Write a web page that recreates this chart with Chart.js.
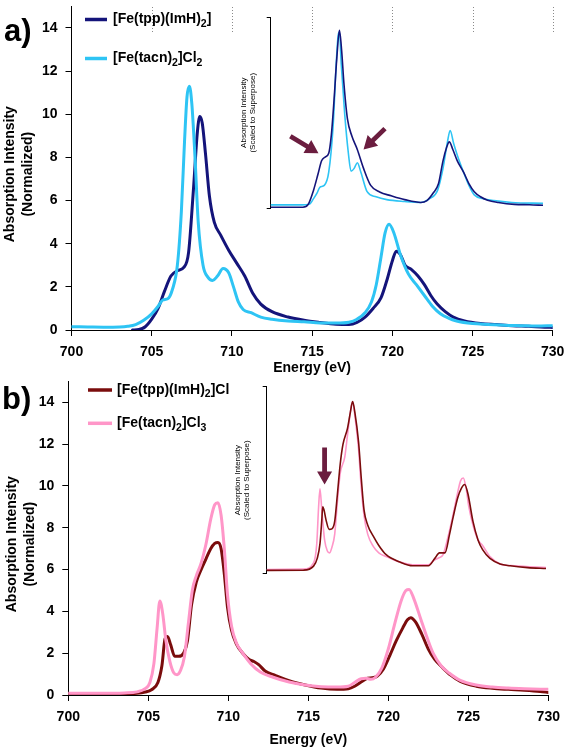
<!DOCTYPE html>
<html>
<head>
<meta charset="utf-8">
<script src="https://cdn.jsdelivr.net/npm/chart.js@4.4.1/dist/chart.umd.min.js"></script>
<style>
  body { margin: 0; background: #fff; }
  #wrap { position: relative; width: 567px; height: 754px; }
  #wrap canvas { position: absolute; }
</style>
</head>
<body>
<div id="wrap">
  <canvas id="mainA" width="567" height="377" style="left:0;top:0"></canvas>
  <canvas id="mainB" width="567" height="377" style="left:0;top:377px"></canvas>
  <canvas id="insetA" width="340" height="210" style="left:220px;top:10px"></canvas>
  <canvas id="insetB" width="345" height="205" style="left:215px;top:378px"></canvas>
</div>
<script>
const fontFam = '"Liberation Sans", Arial, sans-serif';

// panel a, main plot
const legendA = ["[Fe(tpp)(ImH)2]", "[Fe(tacn)2]Cl2"];
const energyA_tpp = [703.8, 704.2, 704.6, 705, 705.4, 705.8, 706.2, 706.6, 707.0, 707.3, 707.6, 707.85, 708.0, 708.15, 708.35, 708.6, 708.9, 709.3, 709.8, 710.3, 710.8, 711.3, 711.8, 712.5, 713.5, 714.5, 715.5, 716.5, 717.3, 717.8, 718.3, 718.8, 719.3, 719.7, 720.0, 720.25, 720.5, 720.8, 721.2, 721.6, 722.0, 722.4, 722.8, 723.3, 723.8, 724.5, 725.5, 726.5, 727.5, 728.5, 729.5, 730];
const intensityA_tpp = [0, 0.02, 0.15, 0.5, 1.0, 1.8, 2.5, 2.75, 2.9, 3.6, 6.5, 9.2, 9.9, 9.6, 8.2, 6.2, 5.0, 4.4, 3.7, 3.1, 2.5, 1.7, 1.2, 0.85, 0.6, 0.45, 0.35, 0.27, 0.25, 0.35, 0.6, 1.0, 1.5, 2.4, 3.2, 3.65, 3.5, 3.0, 2.8, 2.5, 2.1, 1.6, 1.2, 0.85, 0.6, 0.42, 0.3, 0.25, 0.2, 0.17, 0.13, 0.12];
const energyA_tacn = [700, 701, 702, 703, 703.5, 704, 704.5, 705, 705.4, 705.7, 706.0, 706.3, 706.6, 706.85, 707.05, 707.2, 707.35, 707.5, 707.7, 707.9, 708.2, 708.5, 708.8, 709.1, 709.45, 709.8, 710.1, 710.4, 710.7, 711.2, 711.8, 712.5, 713.5, 714.5, 715.5, 716.5, 717.3, 717.8, 718.3, 718.7, 719.0, 719.3, 719.55, 719.8, 720.1, 720.5, 721.0, 721.5, 722.0, 722.5, 723.0, 723.5, 724.0, 725.0, 726.0, 727.0, 728.0, 729.0, 730];
const intensityA_tacn = [0.15, 0.14, 0.13, 0.14, 0.17, 0.25, 0.45, 0.75, 1.1, 1.4, 1.45, 1.9, 3.0, 5.5, 8.8, 10.8, 11.3, 10.5, 8.0, 5.0, 3.0, 2.45, 2.3, 2.5, 2.85, 2.65, 2.0, 1.3, 0.95, 0.8, 0.6, 0.5, 0.42, 0.38, 0.33, 0.32, 0.36, 0.5, 0.8, 1.3, 2.1, 3.4, 4.5, 4.9, 4.5, 3.5, 2.6, 2.1, 1.6, 1.1, 0.75, 0.55, 0.42, 0.3, 0.26, 0.22, 0.2, 0.18, 0.2];

// panel a, inset (scaled to superpose)
const energyInsetA_tpp = [700, 703.6, 704.2, 704.8, 705.3, 705.7, 706.1, 706.5, 706.8, 707.1, 707.4, 707.7, 707.95, 708.2, 708.6, 709.1, 709.7, 710.4, 711.2, 712.2, 713.5, 715, 716.8, 717.5, 718.2, 718.8, 719.3, 719.7, 720.0, 720.4, 720.9, 721.6, 722.2, 722.8, 723.5, 724.3, 725.5, 727.3, 729, 730.5];
const intensityInsetA_tpp = [-0.005, -0.005, 0.01, 0.085, 0.17, 0.24, 0.26, 0.28, 0.38, 0.565, 0.78, 0.93, 0.82, 0.65, 0.46, 0.37, 0.3, 0.2, 0.11, 0.075, 0.055, 0.035, 0.02, 0.03, 0.07, 0.12, 0.24, 0.31, 0.34, 0.3, 0.24, 0.18, 0.12, 0.077, 0.05, 0.032, 0.02, 0.01, 0.008, 0.005];
const energyInsetA_tacn = [700, 703.5, 704.3, 704.8, 705.2, 705.5, 706.0, 706.5, 707.0, 707.3, 707.55, 707.7, 707.9, 708.3, 708.7, 709.0, 709.35, 709.7, 710.1, 710.8, 711.8, 713.0, 715, 716.8, 717.8, 718.7, 719.3, 719.8, 720.1, 720.5, 720.9, 721.6, 722.2, 722.8, 723.8, 725, 727, 730.5];
const intensityInsetA_tacn = [0.007, 0.007, 0.01, 0.04, 0.07, 0.1, 0.11, 0.18, 0.43, 0.72, 0.9, 0.92, 0.75, 0.48, 0.28, 0.185, 0.2, 0.23, 0.18, 0.077, 0.05, 0.035, 0.025, 0.02, 0.04, 0.085, 0.2, 0.34, 0.4, 0.33, 0.27, 0.18, 0.11, 0.06, 0.04, 0.03, 0.02, 0.015];
const arrowTailsA = [[702.2, 0.37], [712.8, 0.41]];
const arrowTipsA = [[705.35, 0.28], [710.4, 0.30]];

// panel b, main plot
const legendB = ["[Fe(tpp)(ImH)2]Cl", "[Fe(tacn)2]Cl3"];
const energyB_tpp = [700, 702, 703.5, 704.3, 704.8, 705.2, 705.6, 705.85, 706.05, 706.2, 706.4, 706.65, 706.9, 707.2, 707.45, 707.7, 708.0, 708.3, 708.6, 708.9, 709.15, 709.35, 709.55, 709.75, 709.95, 710.2, 710.5, 710.9, 711.3, 711.6, 711.9, 712.3, 712.9, 713.8, 714.8, 715.8, 716.8, 717.5, 717.9, 718.3, 718.7, 719.0, 719.3, 719.7, 720.1, 720.5, 720.9, 721.2, 721.4, 721.7, 722.1, 722.5, 722.9, 723.4, 723.9, 724.5, 725.5, 726.5, 727.5, 728.5, 729.5, 730];
const intensityB_tpp = [0.05, 0.05, 0.06, 0.08, 0.14, 0.25, 0.6, 1.4, 2.7, 2.8, 2.4, 1.85, 1.85, 2.0, 2.6, 4.3, 5.4, 6.0, 6.5, 7.0, 7.25, 7.3, 7.0, 5.8, 4.2, 3.1, 2.45, 2.0, 1.7, 1.6, 1.45, 1.15, 0.95, 0.68, 0.48, 0.33, 0.27, 0.3, 0.42, 0.62, 0.8, 0.82, 0.9, 1.25, 1.9, 2.6, 3.2, 3.6, 3.7, 3.5, 2.9, 2.2, 1.7, 1.3, 0.95, 0.65, 0.42, 0.32, 0.27, 0.23, 0.17, 0.12];
const energyB_tacn = [700, 702, 703.5, 704.3, 704.8, 705.1, 705.35, 705.55, 705.72, 705.9, 706.1, 706.35, 706.6, 706.8, 707.0, 707.25, 707.5, 707.75, 708.0, 708.3, 708.6, 708.9, 709.15, 709.35, 709.55, 709.75, 709.95, 710.2, 710.5, 710.9, 711.4, 712.0, 712.8, 713.8, 714.8, 715.8, 716.8, 717.5, 717.9, 718.3, 718.6, 718.9, 719.2, 719.6, 720.0, 720.4, 720.8, 721.1, 721.3, 721.6, 722.0, 722.4, 722.8, 723.3, 723.8, 724.5, 725.5, 726.5, 727.5, 728.5, 730];
const intensityB_tacn = [0.08, 0.08, 0.1, 0.15, 0.3, 0.6, 1.5, 3.2, 4.5, 3.9, 2.6, 1.6, 1.05, 0.97, 1.15, 1.8, 3.4, 5.0, 5.7, 6.3, 7.2, 8.4, 9.1, 9.2, 8.6, 7.0, 4.8, 3.3, 2.5, 2.0, 1.5, 1.1, 0.85, 0.62, 0.48, 0.4, 0.38, 0.42, 0.6, 0.78, 0.8, 0.75, 0.85, 1.3, 2.2, 3.4, 4.5, 5.0, 5.05, 4.6, 3.7, 2.8, 2.0, 1.4, 1.05, 0.7, 0.48, 0.38, 0.33, 0.3, 0.27];

// panel b, inset
const energyInsetB_tpp = [700, 704.0, 705.1, 705.5, 705.8, 706.0, 706.1, 706.25, 706.45, 706.8, 707.1, 707.4, 707.7, 708.0, 708.3, 708.8, 709.1, 709.35, 709.6, 710.0, 710.3, 710.6, 711.0, 711.6, 712.2, 713.0, 714.5, 715.9, 717.6, 718.3, 718.8, 719.4, 719.9, 720.3, 720.8, 721.2, 721.55, 721.9, 722.45, 723.0, 723.5, 724.3, 725.4, 726.5, 728.4, 730.4];
const intensityInsetB_tpp = [0.005, 0.006, 0.028, 0.07, 0.15, 0.28, 0.35, 0.33, 0.28, 0.227, 0.23, 0.27, 0.42, 0.58, 0.687, 0.776, 0.86, 0.92, 0.86, 0.7, 0.5, 0.33, 0.25, 0.19, 0.14, 0.09, 0.05, 0.03, 0.03, 0.07, 0.1, 0.1, 0.2, 0.295, 0.4, 0.45, 0.47, 0.42, 0.27, 0.17, 0.117, 0.07, 0.04, 0.03, 0.02, 0.015];
const energyInsetB_tacn = [700, 704.0, 705.1, 705.45, 705.65, 705.8, 706.0, 706.3, 706.6, 706.85, 707.1, 707.4, 707.7, 708.0, 708.5, 708.8, 709.1, 709.35, 709.6, 710.0, 710.3, 710.6, 711.0, 711.6, 712.2, 713.0, 714.5, 715.9, 717.6, 718.2, 718.7, 719.2, 719.8, 720.3, 720.8, 721.1, 721.4, 721.7, 722.0, 722.45, 723.0, 723.5, 724.3, 725.4, 727, 730.4];
const intensityInsetB_tacn = [0.01, 0.012, 0.045, 0.15, 0.35, 0.447, 0.33, 0.17, 0.11, 0.1, 0.13, 0.2, 0.38, 0.53, 0.62, 0.74, 0.86, 0.92, 0.84, 0.66, 0.45, 0.3, 0.2, 0.135, 0.1, 0.08, 0.05, 0.035, 0.035, 0.06, 0.072, 0.09, 0.2, 0.31, 0.43, 0.49, 0.505, 0.45, 0.35, 0.25, 0.17, 0.14, 0.08, 0.04, 0.03, 0.02];
const arrowTailsB = [[706.3, 0.67]];
const arrowTipsB = [[706.3, 0.47]];

const pts = (xs, ys) => xs.map((x, i) => ({ x: x, y: ys[i] }));

function drawFormula(ctx, text, x, y, size) {
  // digits in the formulas are subscripts
  text.split(/(\d+)/).forEach((part, i) => {
    if (!part) return;
    const sub = i % 2 === 1;
    ctx.font = `bold ${sub ? size * 0.75 : size}px ${fontFam}`;
    ctx.fillText(part, x, sub ? y + size * 0.32 : y);
    x += ctx.measureText(part).width;
  });
}

function drawArrow(ctx, x1, y1, x2, y2, w, headLen, headW) {
  const len = Math.hypot(x2 - x1, y2 - y1);
  ctx.save();
  ctx.translate(x1, y1);
  ctx.rotate(Math.atan2(y2 - y1, x2 - x1));
  ctx.beginPath();
  ctx.moveTo(0, -w / 2);
  ctx.lineTo(len - headLen, -w / 2);
  ctx.lineTo(len - headLen, -headW / 2);
  ctx.lineTo(len, 0);
  ctx.lineTo(len - headLen, headW / 2);
  ctx.lineTo(len - headLen, w / 2);
  ctx.lineTo(0, w / 2);
  ctx.closePath();
  ctx.fill();
  ctx.restore();
}

const decor = {
  id: "decor",
  afterDraw(chart, args, o) {
    const ctx = chart.ctx;
    const area = chart.chartArea;
    const xs = chart.scales.x, ys = chart.scales.y;
    ctx.save();
    ctx.fillStyle = "#000";

    if (o.dots) {
      ctx.strokeStyle = "#8a8a8a";
      ctx.lineWidth = 1;
      ctx.setLineDash([1, 2]);
      o.dots.values.forEach(v => {
        const px = Math.round(xs.getPixelForValue(v)) + 0.5;
        ctx.beginPath();
        ctx.moveTo(px, o.dots.y0);
        ctx.lineTo(px, o.dots.y1);
        ctx.stroke();
      });
      ctx.setLineDash([]);
    }

    if (o.tag) {
      ctx.font = `bold ${o.tag.size}px ${fontFam}`;
      ctx.textBaseline = "alphabetic";
      ctx.textAlign = "left";
      ctx.fillText(o.tag.text, o.tag.x, o.tag.y);
    }

    if (o.yTitle) {
      const t = o.yTitle;
      ctx.font = `${t.weight} ${t.size}px ${fontFam}`;
      ctx.textAlign = "center";
      ctx.textBaseline = "middle";
      t.lines.forEach((line, i) => {
        ctx.save();
        ctx.translate(area.left - t.offsets[i], (area.top + area.bottom) / 2 + t.shift);
        ctx.rotate(-Math.PI / 2);
        ctx.fillText(line, 0, 0);
        ctx.restore();
      });
    }

    if (o.xTitle) {
      ctx.font = `bold ${o.xTitle.size}px ${fontFam}`;
      ctx.textAlign = "center";
      ctx.textBaseline = "middle";
      ctx.fillText(o.xTitle.text, (area.left + area.right) / 2, o.xTitle.y);
    }

    if (o.legend) {
      const L = o.legend;
      ctx.textAlign = "left";
      ctx.textBaseline = "middle";
      chart.data.datasets.forEach((ds, i) => {
        const y = L.y0 + i * L.dy;
        ctx.strokeStyle = ds.borderColor;
        ctx.lineWidth = 3.5;
        ctx.beginPath();
        ctx.moveTo(L.x0, y);
        ctx.lineTo(L.x1, y);
        ctx.stroke();
        ctx.fillStyle = "#000";
        drawFormula(ctx, ds.label, L.tx, y, L.size);
      });
    }

    if (o.arrows) {
      ctx.fillStyle = o.arrows.color;
      o.arrows.tails.forEach((tail, i) => {
        const tip = o.arrows.tips[i];
        drawArrow(ctx,
          xs.getPixelForValue(tail[0]), ys.getPixelForValue(tail[1]),
          xs.getPixelForValue(tip[0]), ys.getPixelForValue(tip[1]),
          4.8, 13, 15);
      });
    }
    ctx.restore();
  }
};

const tickFont = { family: fontFam, size: 14, weight: "bold" };

function mainScales(yWidth, xHeight) {
  return {
    x: {
      type: "linear", min: 700, max: 730,
      ticks: { stepSize: 5, font: tickFont, color: "#000", padding: 8, maxRotation: 0 },
      grid: { drawOnChartArea: false, color: "#000", tickLength: 6 },
      border: { color: "#000", width: 1 },
      afterFit(s) { s.height = xHeight; s.paddingLeft = 0; s.paddingRight = 0; }
    },
    y: {
      min: 0, max: 15,
      ticks: { stepSize: 2, includeBounds: false, font: tickFont, color: "#000", padding: 8 },
      grid: { drawOnChartArea: false, color: "#000", tickLength: 6 },
      border: { color: "#000", width: 1 },
      afterFit(s) { s.width = yWidth; s.paddingTop = 0; s.paddingBottom = 0; }
    }
  };
}

function insetScales(yWidth, xMax) {
  return {
    x: { type: "linear", display: false, min: 700, max: xMax },
    y: {
      min: -0.012, max: 1,
      ticks: { display: false },
      grid: { drawOnChartArea: false, color: "#000", tickLength: 4 },
      border: { color: "#000", width: 1 },
      afterBuildTicks(s) { s.ticks = [{ value: s.min }, { value: s.max }]; },
      afterFit(s) { s.width = yWidth; s.paddingTop = 0; s.paddingBottom = 0; }
    }
  };
}

function line(label, data, color, width, order) {
  return {
    label: label, data: data, borderColor: color, borderWidth: width, order: order,
    pointRadius: 0, fill: false, cubicInterpolationMode: "monotone",
    borderJoinStyle: "round", borderCapStyle: "round"
  };
}

const common = {
  responsive: false,
  animation: false,
  events: [],
  parsing: false
};

const navy = "#14147a", cyan = "#2ec4f4", maroon = "#7a0c0c", pink = "#ff96c8";
const arrowColor = "#6b1d3f";

new Chart(document.getElementById("mainA"), {
  type: "line",
  data: { datasets: [
    line(legendA[0], pts(energyA_tpp, intensityA_tpp), navy, 3, 2),
    line(legendA[1], pts(energyA_tacn, intensityA_tacn), cyan, 3, 1)
  ] },
  options: Object.assign({}, common, {
    layout: { padding: { left: 0, top: 6.4, right: 14.3, bottom: 0 } },
    scales: mainScales(71.5, 47),
    plugins: {
      legend: { display: false }, tooltip: { enabled: false },
      decor: {
        dots: { values: [705, 710, 715, 720, 725, 730], y0: 7, y1: 33 },
        tag: { text: "a)", x: 4, y: 41, size: 31 },
        yTitle: { lines: ["Absorption Intensity", "(Normalized)"], offsets: [61, 43], shift: 6, size: 14, weight: "bold" },
        xTitle: { text: "Energy (eV)", y: 368, size: 14 },
        legend: { x0: 85, x1: 107, tx: 113, y0: 19.5, dy: 39, size: 14 }
      }
    }
  }),
  plugins: [decor]
});

new Chart(document.getElementById("mainB"), {
  type: "line",
  data: { datasets: [
    line(legendB[0], pts(energyB_tpp, intensityB_tpp), maroon, 3, 2),
    line(legendB[1], pts(energyB_tacn, intensityB_tacn), pink, 3, 1)
  ] },
  options: Object.assign({}, common, {
    layout: { padding: { left: 0, top: 4.4, right: 18.7, bottom: 0 } },
    scales: mainScales(68.3, 59),
    plugins: {
      legend: { display: false }, tooltip: { enabled: false },
      decor: {
        tag: { text: "b)", x: 2, y: 32, size: 31 },
        yTitle: { lines: ["Absorption Intensity", "(Normalized)"], offsets: [56, 38], shift: 6, size: 14, weight: "bold" },
        xTitle: { text: "Energy (eV)", y: 363, size: 14 },
        legend: { x0: 88, x1: 112, tx: 117, y0: 13, dy: 33.3, size: 14 }
      }
    }
  }),
  plugins: [decor]
});

new Chart(document.getElementById("insetA"), {
  type: "line",
  data: { datasets: [
    line(legendA[0], pts(energyInsetA_tpp, intensityInsetA_tpp), navy, 1.6, 1),
    line(legendA[1], pts(energyInsetA_tacn, intensityInsetA_tacn), cyan, 1.6, 2)
  ] },
  options: Object.assign({}, common, {
    layout: { padding: { left: 0, top: 7, right: 17, bottom: 11.5 } },
    scales: insetScales(50.7, 730.5),
    plugins: {
      legend: { display: false }, tooltip: { enabled: false },
      decor: {
        yTitle: { lines: ["Absorption Intensity", "(Scaled to Superpose)"], offsets: [27, 18], shift: 0, size: 8, weight: "normal" },
        arrows: { tails: arrowTailsA, tips: arrowTipsA, color: arrowColor }
      }
    }
  }),
  plugins: [decor]
});

new Chart(document.getElementById("insetB"), {
  type: "line",
  data: { datasets: [
    line(legendB[0], pts(energyInsetB_tpp, intensityInsetB_tpp), maroon, 1.6, 1),
    line(legendB[1], pts(energyInsetB_tacn, intensityInsetB_tacn), pink, 1.6, 2)
  ] },
  options: Object.assign({}, common, {
    layout: { padding: { left: 0, top: 8.7, right: 14, bottom: 9.5 } },
    scales: insetScales(51.7, 730.4),
    plugins: {
      legend: { display: false }, tooltip: { enabled: false },
      decor: {
        yTitle: { lines: ["Absorption Intensity", "(Scaled to Superpose)"], offsets: [29, 20], shift: 0, size: 8, weight: "normal" },
        arrows: { tails: arrowTailsB, tips: arrowTipsB, color: arrowColor }
      }
    }
  }),
  plugins: [decor]
});
</script>
</body>
</html>
